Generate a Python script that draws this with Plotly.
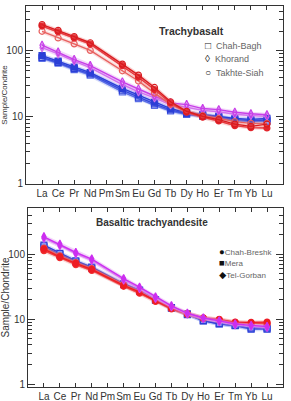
import plotly.graph_objects as go

elements = ["La", "Ce", "Pr", "Nd", "Pm", "Sm", "Eu", "Gd", "Tb", "Dy", "Ho", "Er", "Tm", "Yb", "Lu"]
xi = list(range(len(elements)))

# Trachybasalt samples (Pm not analysed -> None)
takhte_1 = [250, 205, 165, 133, None, 63, 43, 28, 17, 12.2, 10.2, 9.1, 7.8, 7.2, 7.8]
takhte_2 = [238, 195, 157, 127, None, 60, 40, 26, 16.3, 11.8, 9.9, 8.7, 7.4, 6.9, 6.8]
takhte_3 = [198, 157, 128, 102, None, 50, 35, 23, 15.5, 12, 10.5, 9.5, 8.5, 8.0, 8.0]
khorand_1 = [122, 96, 74, 60, None, 34, 26.5, 21, 16.3, 15.4, 13.4, 12.9, 11.8, 11.2, 10.8]
khorand_2 = [112, 90, 70, 56, None, 31, 24, 19.5, 15.3, 14, 12.6, 12, 11, 10.5, 10.2]
chah_1 = [85, 70, 57, 47, None, 27, 21.5, 16.7, 13.4, 11.7, 10.9, 10.3, 9.5, 9.2, 9.5]
chah_2 = [80, 67, 54, 45, None, 25.5, 20, 15.8, 12.8, 11.2, 10.5, 10, 9.1, 8.8, 9.0]
chah_3 = [77, 65, 52, 43, None, 24, 19, 15, 12.3, 10.9, 10.2, 9.7, 8.8, 8.5, 8.6]

# Basaltic trachyandesite samples
tel_1 = [185, 142, 106, 84, None, 42, 31, 22, 16, 12.3, 10.4, 9.4, 8.4, 8.0, 7.7]
tel_2 = [175, 135, 101, 80, None, 40, 29.5, 21, 15.5, 12, 10.2, 9.2, 8.2, 7.8, 7.5]
mera_1 = [138, 103, 79, 63, None, 35, 28, 20, 15, 12, 9.5, 8.5, 8.0, 7.3, 7.3]
mera_2 = [130, 98, 76, 61, None, 34, 27, 19.5, 14.7, 11.7, 9.4, 8.4, 7.9, 7.0, 7.0]
breshk_1 = [119, 91, 72, 58, None, 33, 26, 19.2, 14.7, 12.1, 10.4, 9.8, 8.9, 8.9, 9.0]
breshk_2 = [113, 88, 69, 56, None, 32, 25, 18.7, 14.3, 11.8, 10.2, 9.6, 8.7, 8.6, 8.6]
breshk_3 = [124, 94, 74, 60, None, 34, 26.5, 19.6, 15, 12.2, 10.5, 9.9, 9.0, 8.7, 8.4]

legend_top = [("\u25a1", "Chah-Bagh"), ("\u25ca", "Khorand"), ("\u25cb", "Takhte-Siah")]
legend_bot = [("\u25cf", "Chah-Breshk"), ("\u25a0", "Mera"), ("\u25c6", "Tel-Gorban")]

fig = go.Figure()

def add(y, color, symbol, xa, ya, lcolor=None, msize=6, mline=None, band=None):
    if band:
        fig.add_trace(go.Scatter(x=xi, y=y, mode="lines", connectgaps=True,
                                 line=dict(color=band, width=4), xaxis=xa, yaxis=ya,
                                 showlegend=False, hoverinfo="skip"))
    fig.add_trace(go.Scatter(
        x=xi, y=y, mode="lines+markers", connectgaps=True,
        line=dict(color=lcolor or color, width=1.4),
        marker=dict(symbol=symbol, size=msize, color=color,
                    line=dict(color=mline or color, width=1.2)),
        xaxis=xa, yaxis=ya, showlegend=False))

RED = "#e3242b"
BLUE = "#2b3fd6"
MAG = "#c83ee8"

# top panel
add(chah_3, "#5a6ee6", "square-open", "x", "y", band="rgba(120,140,240,0.3)")
add(chah_2, BLUE, "square-open", "x", "y", band="rgba(90,110,235,0.3)")
add(chah_1, BLUE, "square", "x", "y", band="rgba(90,110,235,0.3)")
add(khorand_2, "#d070ee", "diamond-tall-open", "x", "y", band="rgba(215,130,240,0.3)")
add(khorand_1, MAG, "diamond-tall-open", "x", "y", band="rgba(215,130,240,0.3)")
add(takhte_3, "#e8605f", "circle-open", "x", "y", band="rgba(240,140,140,0.3)")
add(takhte_2, RED, "circle", "x", "y", band="rgba(240,110,110,0.3)")
add(takhte_1, "#d81c20", "circle-open", "x", "y", band="rgba(240,110,110,0.3)")

# bottom panel
add(mera_2, "#7f8cf0", "square", "x2", "y2", lcolor=BLUE, mline=BLUE, band="rgba(120,140,240,0.3)")
add(mera_1, "#8a96f2", "square", "x2", "y2", lcolor=BLUE, mline=BLUE, band="rgba(120,140,240,0.3)")
add(breshk_3, "#f04040", "circle", "x2", "y2", lcolor="#ee5050", band="rgba(240,120,120,0.3)")
add(breshk_2, "#f03030", "circle", "x2", "y2", band="rgba(240,120,120,0.3)")
add(breshk_1, "#ee1c24", "circle", "x2", "y2", band="rgba(240,120,120,0.3)")
add(tel_2, "#d24ef0", "diamond-tall", "x2", "y2", lcolor="#d880f0", band="rgba(220,140,240,0.35)")
add(tel_1, "#cc2ef0", "diamond-tall", "x2", "y2", band="rgba(220,140,240,0.35)")

tickfont = dict(family="Liberation Sans, Arial", size=10, color="#333333")
xcommon = dict(range=[-1, 15], tickmode="array", tickvals=xi, ticktext=elements, tickangle=0,
               ticks="inside", ticklen=4, tickcolor="#333", mirror="ticks",
               showline=True, linecolor="#333", linewidth=1, showgrid=False,
               zeroline=False, tickfont=tickfont)
ycommon = dict(type="log", tickmode="array", tickvals=[1, 10, 100], ticktext=["1", "10", "100"],
               ticks="inside", ticklen=7, tickcolor="#333", mirror="ticks",
               showline=True, linecolor="#333", linewidth=1, showgrid=False,
               zeroline=False, tickfont=tickfont,
               minor=dict(ticks="inside", ticklen=4, tickcolor="#333",
                          tickvals=[2, 3, 4, 5, 6, 7, 8, 9, 20, 30, 40, 50, 60, 70, 80, 90, 200, 300, 400, 500],
                          showgrid=False))

# paper coordinates helpers (layout only)
L, R, T, B, W, H = 26, 8, 6, 14, 291, 401
def px(x):
    return (x - L) / (W - L - R)
def py(y):
    return (H - B - y) / (H - T - B)

annotations = [
    dict(text="<b>Trachybasalt</b>", x=px(191), y=py(23), xref="paper", yref="paper",
         showarrow=False, font=dict(family="Liberation Sans, Arial", size=10.5, color="#333")),
    dict(text="<b>Basaltic trachyandesite</b>", x=px(152), y=py(223), xref="paper", yref="paper",
         showarrow=False, font=dict(family="Liberation Sans, Arial", size=10, color="#333")),
]
for i, (sym, name) in enumerate(legend_top):
    annotations.append(dict(
        text=f"<span style='color:#222;font-size:10px'>{sym}</span>  {name}",
        x=px(203), y=py(45 + 13.5 * i), xref="paper", yref="paper", xanchor="left", yanchor="middle",
        showarrow=False, font=dict(family="Liberation Sans, DejaVu Sans", size=9, color="#666")))
for i, (sym, name) in enumerate(legend_bot):
    annotations.append(dict(
        text=f"<span style='color:#111;font-size:9.5px'>{sym}</span>{name}",
        x=px(217), y=py(251 + 11.5 * i), xref="paper", yref="paper", xanchor="left", yanchor="middle",
        showarrow=False, font=dict(family="Liberation Sans, DejaVu Sans", size=8, color="#666")))

fig.update_layout(
    width=W, height=H,
    margin=dict(l=L, r=R, t=T, b=B, autoexpand=False),
    plot_bgcolor="white", paper_bgcolor="white",
    showlegend=False,
    xaxis=dict(domain=[0, 1], anchor="y", **xcommon),
    yaxis=dict(domain=[py(184), 1], anchor="x", range=[-0.015, 2.68],
               title=dict(text="Sample/Condrite", font=dict(family="Liberation Sans, Arial", size=8, color="#333"), standoff=0),
               **ycommon),
    xaxis2=dict(domain=[px(28), 1], anchor="y2", **xcommon),
    yaxis2=dict(domain=[0, py(208)], anchor="x2", range=[-0.045, 2.71],
                title=dict(text="Sample/Chondrite", font=dict(family="Liberation Sans, Arial", size=10, color="#333"), standoff=0),
                **ycommon),
    annotations=annotations,
)

fig.write_html("out.html")
